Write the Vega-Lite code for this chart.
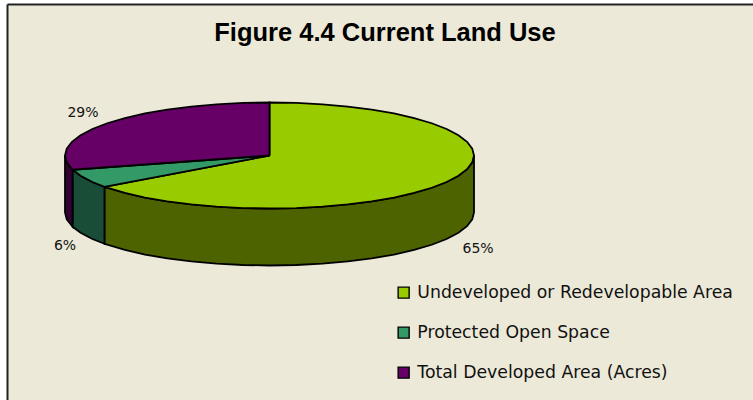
{"$schema":"https://vega.github.io/schema/vega-lite/v6.json","width":746,"height":396,"padding":{"left":7,"top":4,"right":0,"bottom":0},"autosize":{"type":"none"},"background":"#ffffff","view":{"fill":"#ECE9D8","stroke":null},
"title":{"text":"Figure 4.4 Current Land Use","anchor":"middle","dx":5,"dy":24,"offset":-38,"font":"Liberation Sans","fontWeight":"bold","fontSize":25.5,"color":"#000000","baseline":"alphabetic"},
"datasets":{"rim":[
{"slice":"Undeveloped or Redevelopable Area","angle":-1,"x":0,"y":0},
{"slice":"Undeveloped or Redevelopable Area","angle":0,"x":0,"y":1},
{"slice":"Undeveloped or Redevelopable Area","angle":7.5,"x":0.1305,"y":0.9914},
{"slice":"Undeveloped or Redevelopable Area","angle":15,"x":0.2588,"y":0.9659},
{"slice":"Undeveloped or Redevelopable Area","angle":22.5,"x":0.3827,"y":0.9239},
{"slice":"Undeveloped or Redevelopable Area","angle":30,"x":0.5,"y":0.866},
{"slice":"Undeveloped or Redevelopable Area","angle":37.5,"x":0.6088,"y":0.7934},
{"slice":"Undeveloped or Redevelopable Area","angle":45,"x":0.7071,"y":0.7071},
{"slice":"Undeveloped or Redevelopable Area","angle":52.5,"x":0.7934,"y":0.6088},
{"slice":"Undeveloped or Redevelopable Area","angle":60,"x":0.866,"y":0.5},
{"slice":"Undeveloped or Redevelopable Area","angle":67.5,"x":0.9239,"y":0.3827},
{"slice":"Undeveloped or Redevelopable Area","angle":75,"x":0.9659,"y":0.2588},
{"slice":"Undeveloped or Redevelopable Area","angle":82.5,"x":0.9914,"y":0.1305},
{"slice":"Undeveloped or Redevelopable Area","angle":90,"x":1,"y":0,"yb":-1.075},
{"slice":"Undeveloped or Redevelopable Area","angle":97.5,"x":0.9914,"y":-0.1305,"yb":-1.2055},
{"slice":"Undeveloped or Redevelopable Area","angle":105,"x":0.9659,"y":-0.2588,"yb":-1.3338},
{"slice":"Undeveloped or Redevelopable Area","angle":112.5,"x":0.9239,"y":-0.3827,"yb":-1.4577},
{"slice":"Undeveloped or Redevelopable Area","angle":120,"x":0.866,"y":-0.5,"yb":-1.575},
{"slice":"Undeveloped or Redevelopable Area","angle":127.5,"x":0.7934,"y":-0.6088,"yb":-1.6838},
{"slice":"Undeveloped or Redevelopable Area","angle":135,"x":0.7071,"y":-0.7071,"yb":-1.7821},
{"slice":"Undeveloped or Redevelopable Area","angle":142.5,"x":0.6088,"y":-0.7934,"yb":-1.8684},
{"slice":"Undeveloped or Redevelopable Area","angle":150,"x":0.5,"y":-0.866,"yb":-1.941},
{"slice":"Undeveloped or Redevelopable Area","angle":157.5,"x":0.3827,"y":-0.9239,"yb":-1.9989},
{"slice":"Undeveloped or Redevelopable Area","angle":165,"x":0.2588,"y":-0.9659,"yb":-2.0409},
{"slice":"Undeveloped or Redevelopable Area","angle":172.5,"x":0.1305,"y":-0.9914,"yb":-2.0664},
{"slice":"Undeveloped or Redevelopable Area","angle":180,"x":0,"y":-1,"yb":-2.075},
{"slice":"Undeveloped or Redevelopable Area","angle":187.5,"x":-0.1305,"y":-0.9914,"yb":-2.0664},
{"slice":"Undeveloped or Redevelopable Area","angle":195,"x":-0.2588,"y":-0.9659,"yb":-2.0409},
{"slice":"Undeveloped or Redevelopable Area","angle":202.5,"x":-0.3827,"y":-0.9239,"yb":-1.9989},
{"slice":"Undeveloped or Redevelopable Area","angle":210,"x":-0.5,"y":-0.866,"yb":-1.941},
{"slice":"Undeveloped or Redevelopable Area","angle":217.5,"x":-0.6088,"y":-0.7934,"yb":-1.8684},
{"slice":"Undeveloped or Redevelopable Area","angle":225,"x":-0.7071,"y":-0.7071,"yb":-1.7821},
{"slice":"Undeveloped or Redevelopable Area","angle":233.8,"x":-0.807,"y":-0.5906,"yb":-1.6656},
{"slice":"Undeveloped or Redevelopable Area","angle":400,"x":0,"y":0},
{"slice":"Protected Open Space","angle":-1,"x":0,"y":0},
{"slice":"Protected Open Space","angle":233.8,"x":-0.807,"y":-0.5906,"yb":-1.6656},
{"slice":"Protected Open Space","angle":240,"x":-0.866,"y":-0.5,"yb":-1.575},
{"slice":"Protected Open Space","angle":247.5,"x":-0.9239,"y":-0.3827,"yb":-1.4577},
{"slice":"Protected Open Space","angle":254.4,"x":-0.963,"y":-0.2689,"yb":-1.3439},
{"slice":"Protected Open Space","angle":400,"x":0,"y":0},
{"slice":"Total Developed Area (Acres)","angle":-1,"x":0,"y":0},
{"slice":"Total Developed Area (Acres)","angle":254.4,"x":-0.963,"y":-0.2689,"yb":-1.3439},
{"slice":"Total Developed Area (Acres)","angle":262.5,"x":-0.9914,"y":-0.1305,"yb":-1.2055},
{"slice":"Total Developed Area (Acres)","angle":270,"x":-1,"y":0,"yb":-1.075},
{"slice":"Total Developed Area (Acres)","angle":277.5,"x":-0.9914,"y":0.1305},
{"slice":"Total Developed Area (Acres)","angle":285,"x":-0.9659,"y":0.2588},
{"slice":"Total Developed Area (Acres)","angle":292.5,"x":-0.9239,"y":0.3827},
{"slice":"Total Developed Area (Acres)","angle":300,"x":-0.866,"y":0.5},
{"slice":"Total Developed Area (Acres)","angle":307.5,"x":-0.7934,"y":0.6088},
{"slice":"Total Developed Area (Acres)","angle":315,"x":-0.7071,"y":0.7071},
{"slice":"Total Developed Area (Acres)","angle":322.5,"x":-0.6088,"y":0.7934},
{"slice":"Total Developed Area (Acres)","angle":330,"x":-0.5,"y":0.866},
{"slice":"Total Developed Area (Acres)","angle":337.5,"x":-0.3827,"y":0.9239},
{"slice":"Total Developed Area (Acres)","angle":345,"x":-0.2588,"y":0.9659},
{"slice":"Total Developed Area (Acres)","angle":352.5,"x":-0.1305,"y":0.9914},
{"slice":"Total Developed Area (Acres)","angle":360,"x":0,"y":1},
{"slice":"Total Developed Area (Acres)","angle":400,"x":0,"y":0}
],
"labels":[{"label":"29%","x":-0.912,"y":0.802},{"label":"6%","x":-1.0,"y":-1.708},{"label":"65%","x":1.02,"y":-1.755}]},
"data":{"name":"rim"},
"encoding":{
"x":{"field":"x","type":"quantitative","scale":{"domain":[-1.2836,2.3643],"nice":false,"zero":false},"axis":{"orient":"top","domain":true,"ticks":false,"labels":false,"grid":false,"title":null,"domainColor":"#222222","domainWidth":2}},
"y":{"field":"y","type":"quantitative","scale":{"domain":[-4.6132,2.8585],"nice":false,"zero":false},"axis":{"orient":"left","domain":true,"ticks":false,"labels":false,"grid":false,"title":null,"domainColor":"#222222","domainWidth":2}}
},
"layer":[
{"transform":[{"filter":"isValid(datum.yb) && datum.slice==='Undeveloped or Redevelopable Area'"}],"mark":{"type":"area","orient":"vertical","fill":"#4D6300","stroke":"#000000","strokeWidth":1.8},"encoding":{"y2":{"field":"yb"}}},
{"transform":[{"filter":"isValid(datum.yb) && datum.slice==='Protected Open Space'"}],"mark":{"type":"area","orient":"vertical","fill":"#1A4D38","stroke":"#000000","strokeWidth":1.8},"encoding":{"y2":{"field":"yb"}}},
{"transform":[{"filter":"isValid(datum.yb) && datum.slice==='Total Developed Area (Acres)'"}],"mark":{"type":"area","orient":"vertical","fill":"#330033","stroke":"#000000","strokeWidth":1.8},"encoding":{"y2":{"field":"yb"}}},
{"mark":{"type":"line","stroke":"#000000","strokeWidth":1.8,"strokeJoin":"miter"},"encoding":{"order":{"field":"angle"},"fill":{"field":"slice","type":"nominal","scale":{"domain":["Undeveloped or Redevelopable Area","Protected Open Space","Total Developed Area (Acres)"],"range":["#99CC00","#339966","#660066"]},"legend":{"orient":"none","legendX":388,"legendY":280,"title":null,"symbolType":"square","symbolSize":121,"symbolStrokeColor":"#000000","symbolStrokeWidth":1.4,"symbolOpacity":1,"labelFont":"DejaVu Sans","labelFontSize":17.3,"labelColor":"#111111","rowPadding":22,"labelOffset":5,"labelLimit":400}}}},
{"data":{"name":"labels"},"mark":{"type":"text","font":"DejaVu Sans","fontSize":14,"color":"#111111"},"encoding":{"text":{"field":"label"}}}
]}
